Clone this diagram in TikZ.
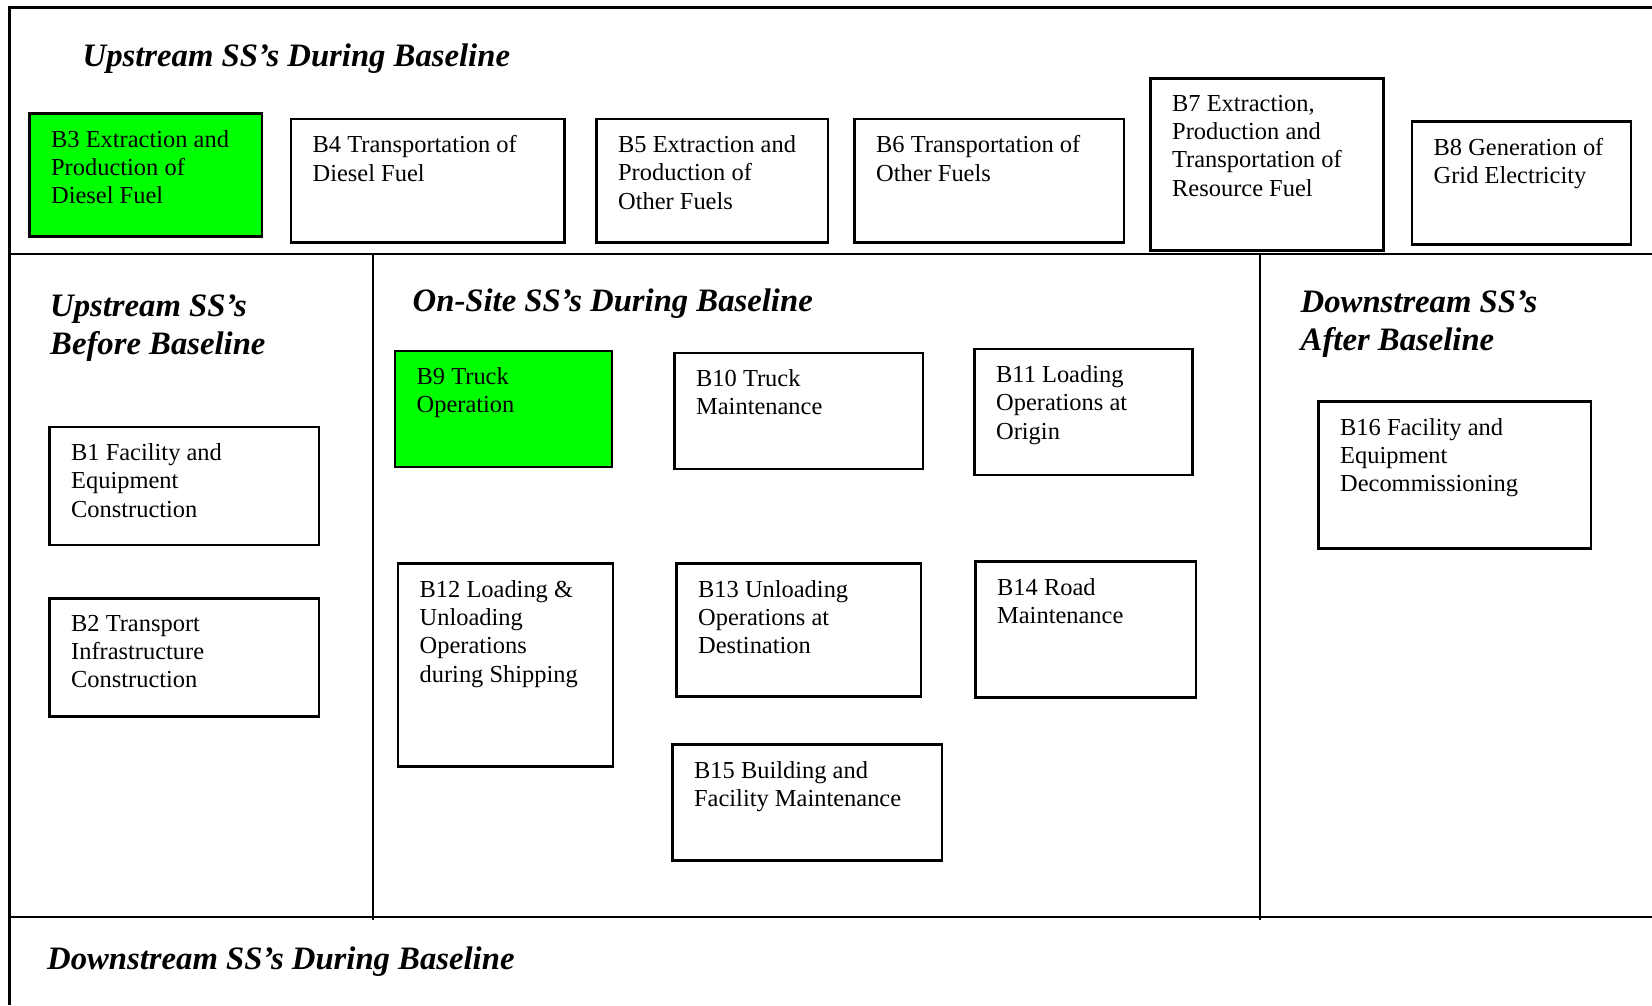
\documentclass[tikz,border=0pt]{standalone}
\definecolor{BoxGreen}{RGB}{0,255,0}
\definecolor{LineColor}{RGB}{0,0,0}
\usepackage{fontspec}
\setmainfont{Liberation Serif}
\usepackage{tikz}
\usetikzlibrary{fit}
\tikzstyle{ssbox} = [draw=LineColor, line width=0.6pt, inner sep=0pt]
\tikzstyle{greenbox} = [ssbox, fill=BoxGreen]
\tikzstyle{divider} = [draw=LineColor, line width=0.75pt]
\tikzset{
  boxtext/.style={anchor=north west, align=left, inner sep=0pt, font=\fontsize{6.95}{8.05}\selectfont},
  heading/.style={anchor=base west, align=left, inner sep=0pt, font=\fontsize{9.3}{10.8}\selectfont\bfseries\itshape}
}

\begin{document}
\begin{tikzpicture}[x=0.01cm, y=-0.01cm]
                \path[use as bounding box, fill=white] (0,0) rectangle (1652,1005);

                % Frame and dividers
                \draw[divider] (9.5,1005) -- (9.5,7.5) -- (1652,7.5);
                \draw[divider] (9.5,254) -- (1652,254);
                \draw[divider] (9.5,917) -- (1652,917);
                \draw[divider] (373,254) -- (373,920);
                \draw[divider] (1260,254) -- (1260,920);

                % Headings (base of the last line)
                \node[heading] (hupdur) at (82,66) {Upstream SS’s During Baseline};
                \node[heading] (hupbef) at (49.5,354) {Upstream SS’s\\Before Baseline};
                \node[heading] (honsite) at (412,311.7) {On-Site SS’s During Baseline};
                \node[heading] (hdownaft) at (1300,350) {Downstream SS’s\\After Baseline};
                \node[heading] (hdowndur) at (46.5,969) {Downstream SS’s During Baseline};

                % Upstream during baseline
                \node[greenbox, fit={(29.5,113.5) (262,236.5)}] (b3) {};
                \node[boxtext] at ([shift={(22,17)}]b3.north west) {B3 Extraction and\\Production of\\Diesel Fuel};
                \node[ssbox, fit={(291,119) (564.5,242.5)}] (b4) {};
                \node[boxtext] at ([shift={(22,17)}]b4.north west) {B4 Transportation of\\Diesel Fuel};
                \node[ssbox, fit={(596.5,119) (828,242.5)}] (b5) {};
                \node[boxtext] at ([shift={(22,17)}]b5.north west) {B5 Extraction and\\Production of\\Other Fuels};
                \node[ssbox, fit={(854.5,119) (1124,242.5)}] (b6) {};
                \node[boxtext] at ([shift={(22,17)}]b6.north west) {B6 Transportation of\\Other Fuels};
                \node[ssbox, fit={(1150.5,78.5) (1383.5,250.5)}] (b7) {};
                \node[boxtext] at ([shift={(22,17)}]b7.north west) {B7 Extraction,\\Production and\\Transportation of\\Resource Fuel};
                \node[ssbox, fit={(1412,121.5) (1631,244.5)}] (b8) {};
                \node[boxtext] at ([shift={(22,17)}]b8.north west) {B8 Generation of\\Grid Electricity};

                % Upstream before baseline
                \node[ssbox, fit={(49.5,427) (319,545)}] (b1) {};
                \node[boxtext] at ([shift={(22,17)}]b1.north west) {B1 Facility and\\Equipment\\Construction};
                \node[ssbox, fit={(49.5,598.5) (319,716.5)}] (b2) {};
                \node[boxtext] at ([shift={(22,17)}]b2.north west) {B2 Transport\\Infrastructure\\Construction};

                % On-site during baseline
                \node[greenbox, fit={(395,351) (612,467)}] (b9) {};
                \node[boxtext] at ([shift={(22,17)}]b9.north west) {B9 Truck\\Operation};
                \node[ssbox, fit={(674.5,353) (923,469)}] (b10) {};
                \node[boxtext] at ([shift={(22,17)}]b10.north west) {B10 Truck\\Maintenance};
                \node[ssbox, fit={(974.5,349) (1192.5,475)}] (b11) {};
                \node[boxtext] at ([shift={(22,17)}]b11.north west) {B11 Loading\\Operations at\\Origin};
                \node[ssbox, fit={(398,563.5) (613,766.5)}] (b12) {};
                \node[boxtext] at ([shift={(22,17)}]b12.north west) {B12 Loading \&\\Unloading\\Operations\\during Shipping};
                \node[ssbox, fit={(676.5,563.5) (921,696.5)}] (b13) {};
                \node[boxtext] at ([shift={(22,17)}]b13.north west) {B13 Unloading\\Operations at\\Destination};
                \node[ssbox, fit={(975.5,561.5) (1196,697.5)}] (b14) {};
                \node[boxtext] at ([shift={(22,17)}]b14.north west) {B14 Road\\Maintenance};
                \node[ssbox, fit={(672.5,744.5) (942,860.5)}] (b15) {};
                \node[boxtext] at ([shift={(22,17)}]b15.north west) {B15 Building and\\Facility Maintenance};

                % Downstream after baseline
                \node[ssbox, fit={(1318.5,401.5) (1591,548.5)}] (b16) {};
                \node[boxtext] at ([shift={(22,17)}]b16.north west) {B16 Facility and\\Equipment\\Decommissioning};
            \end{tikzpicture}
\end{document}
